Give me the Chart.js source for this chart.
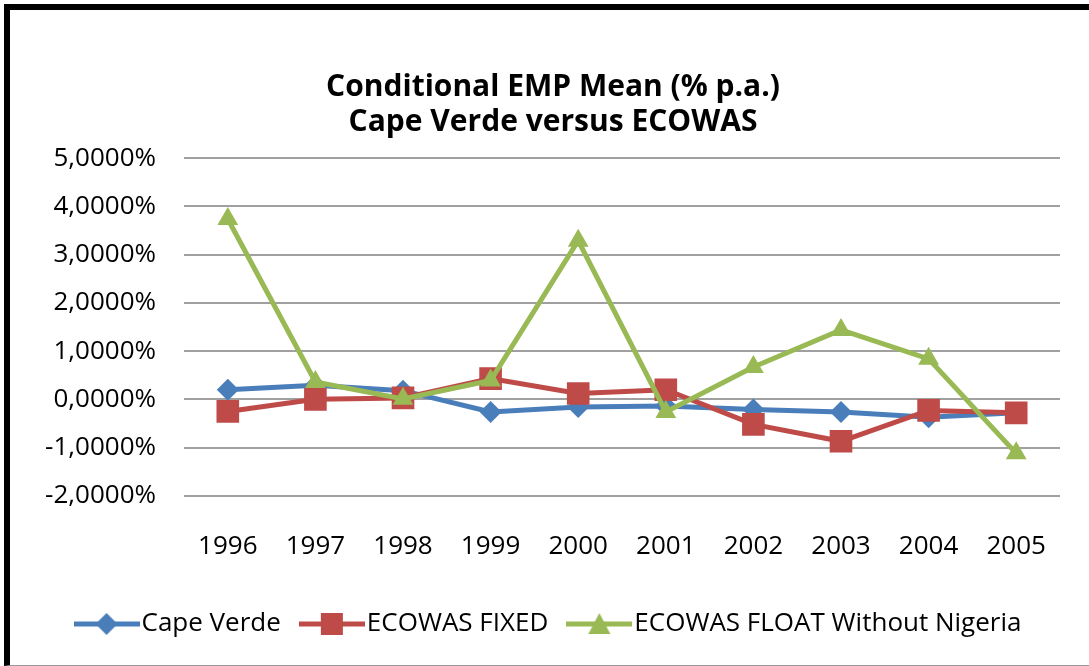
<!DOCTYPE html>
<html>
<head>
<meta charset="utf-8">
<script src="https://cdn.jsdelivr.net/npm/chart.js@4.4.1/dist/chart.umd.min.js"></script>
<style>
  html, body { margin: 0; padding: 0; background: #fff; }
  #wrap { position: relative; width: 1089px; height: 666px; overflow: hidden; }
  #frame {
    position: absolute; left: 4px; top: 4px; right: -10px; bottom: 0;
    border-top: 6px solid #000; border-left: 6px solid #000;
    border-bottom: 1px solid #999; box-sizing: border-box;
  }
  canvas { position: absolute; left: 0; top: 0; }
</style>
</head>
<body>
<div id="wrap">
  <div id="frame"></div>
  <canvas id="chart" width="1089" height="666"></canvas>
</div>
<script>
const years = ['1996', '1997', '1998', '1999', '2000', '2001', '2002', '2003', '2004', '2005'];
const capeVerde = [0.20, 0.29, 0.18, -0.26, -0.16, -0.14, -0.21, -0.26, -0.37, -0.28];
const ecowasFixed = [-0.25, 0.00, 0.03, 0.43, 0.12, 0.20, -0.52, -0.87, -0.23, -0.28];
const ecowasFloat = [3.74, 0.36, 0.01, 0.39, 3.29, -0.26, 0.67, 1.44, 0.84, -1.12];
const yTicks = [-2, -1, 0, 1, 2, 3, 4, 5];

const FONT = "'Open Sans', sans-serif";

// legend swatch: line with marker in the middle
function swatch(color, shape) {
    const c = document.createElement('canvas');
    c.width = 66; c.height = 26;
    const g = c.getContext('2d');
    g.strokeStyle = color; g.lineWidth = 5;
    g.beginPath(); g.moveTo(0, 13); g.lineTo(66, 13); g.stroke();
    g.fillStyle = color;
    g.beginPath();
    if (shape === 'diamond') {
        g.moveTo(33, 2); g.lineTo(44, 13); g.lineTo(33, 24); g.lineTo(22, 13);
    } else if (shape === 'square') {
        g.rect(22, 2, 22, 22);
    } else {
        g.moveTo(33, 2); g.lineTo(44, 23); g.lineTo(22, 23);
    }
    g.closePath(); g.fill();
    return c;
}

// later series sit on top, as in the original
const series = [
    { label: 'Cape Verde', data: capeVerde, color: '#4a7ebb', style: 'rectRot', radius: 11, icon: 'diamond', order: 3 },
    { label: 'ECOWAS FIXED', data: ecowasFixed, color: '#be4b48', style: 'rect', radius: 16, icon: 'square', order: 2 },
    { label: 'ECOWAS FLOAT Without Nigeria', data: ecowasFloat, color: '#98b954', style: 'triangle', radius: 12, icon: 'triangle', order: 1 }
];

new Chart(document.getElementById('chart').getContext('2d'), {
    type: 'line',
    data: {
        labels: years,
        datasets: series.map(s => ({
            label: s.label,
            data: s.data,
            order: s.order,
            borderColor: s.color,
            backgroundColor: s.color,
            borderWidth: 5,
            pointStyle: s.style,
            pointRadius: s.radius,
            pointBorderWidth: 0,
            pointHoverRadius: s.radius,
            tension: 0
        }))
    },
    options: {
        responsive: false,
        animation: false,
        devicePixelRatio: 1,
        layout: { padding: { left: 46, right: 29, top: 70, bottom: 19 } },
        plugins: {
            title: {
                display: true,
                text: ['Conditional EMP Mean (% p.a.)', 'Cape Verde versus ECOWAS'],
                color: '#000',
                font: { family: FONT, size: 30, weight: 'bold', lineHeight: 1.17 },
                padding: { top: 0, bottom: 18 }
            },
            legend: {
                position: 'bottom',
                labels: {
                    color: '#000',
                    font: { family: FONT, size: 26 },
                    usePointStyle: true,
                    pointStyleWidth: 44,
                    padding: 29,
                    generateLabels: chart => series.map((s, i) => ({
                        text: s.label,
                        fontColor: '#000',
                        pointStyle: swatch(s.color, s.icon),
                        datasetIndex: i,
                        hidden: false,
                        lineWidth: 0,
                        strokeStyle: 'transparent',
                        fillStyle: 'transparent'
                    }))
                }
            },
            tooltip: { enabled: false }
        },
        scales: {
            x: {
                offset: true,
                grid: { display: false },
                border: { display: false },
                afterFit: axis => { axis.height -= 7; },
                ticks: { color: '#000', font: { family: FONT, size: 26 }, padding: 27 }
            },
            y: {
                min: -2,
                max: 5,
                afterBuildTicks: axis => { axis.ticks = yTicks.map(v => ({ value: v })); },
                afterFit: axis => { axis.width = 138; },
                grid: { color: '#a0a0a0', lineWidth: 2, drawTicks: false },
                border: { display: false },
                ticks: {
                    color: '#000',
                    font: { family: FONT, size: 26 },
                    padding: 28,
                    callback: v => v.toFixed(4).replace('.', ',') + '%'
                }
            }
        }
    }
});
</script>
</body>
</html>
